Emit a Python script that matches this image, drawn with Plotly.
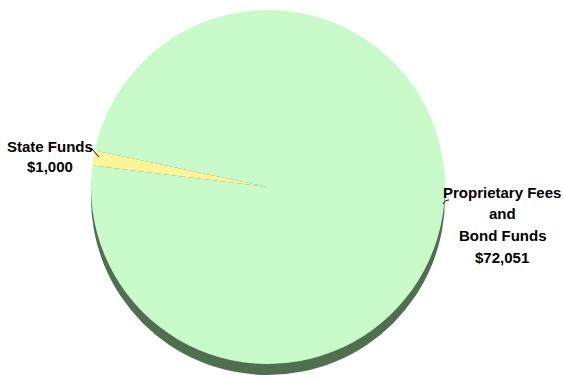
import plotly.graph_objects as go

labels = ["State Funds", "Proprietary Fees and Bond Funds"]
values = [1000, 72051]
label_lines = [["State Funds", "$1,000"], ["Proprietary Fees", "and", "Bond Funds", "$72,051"]]
colors = ["#fbf59a", "#c9fac9"]

W, H = 564, 381
cx, cy, r = 268, 187, 177
shadow_dy = 11

def dom(cx, cy, r):
    return dict(x=[(cx - r) / W, (cx + r) / W], y=[1 - (cy + r) / H, 1 - (cy - r) / H])

fig = go.Figure()
# extrusion / shadow of the 3D pie
fig.add_trace(go.Pie(values=[sum(values)], labels=["shadow"], marker=dict(colors=["#506e50"], line=dict(width=0)),
                     textinfo="none", hoverinfo="skip", sort=False, domain=dom(cx, cy + shadow_dy, r),
                     showlegend=False))
fig.add_trace(go.Pie(values=values, labels=labels, marker=dict(colors=colors, line=dict(width=0)),
                     textinfo="none", sort=False, direction="counterclockwise", rotation=-83,
                     domain=dom(cx, cy, r), showlegend=False))

font = dict(family="Liberation Sans, Arial, sans-serif", size=15, color="#000000")
label_pos = [(50, 146, 20.5), (502, 192, 21.7)]
for lines, (lx, ly, dy) in zip(label_lines, label_pos):
    for i, s in enumerate(lines):
        fig.add_annotation(x=lx / W, y=1 - (ly + i * dy) / H, xref="paper", yref="paper", text="<b>" + s + "</b>",
                           showarrow=False, font=font, align="center", xanchor="center", yanchor="middle")

def p(x, y):
    return f"{x / W:.4f},{1 - y / H:.4f}"

fig.add_shape(type="path", xref="paper", yref="paper", path=f"M{p(89,149)} L{p(92,149)} L{p(99,157)}",
              line=dict(color="#000000", width=1))
fig.add_shape(type="path", xref="paper", yref="paper", path=f"M{p(443,204)} Q{p(445,200)} {p(449,200)}",
              line=dict(color="#000000", width=1))

fig.update_layout(width=W, height=H, margin=dict(l=0, r=0, t=0, b=0), paper_bgcolor="white", plot_bgcolor="white")
fig.write_html("out.html")
